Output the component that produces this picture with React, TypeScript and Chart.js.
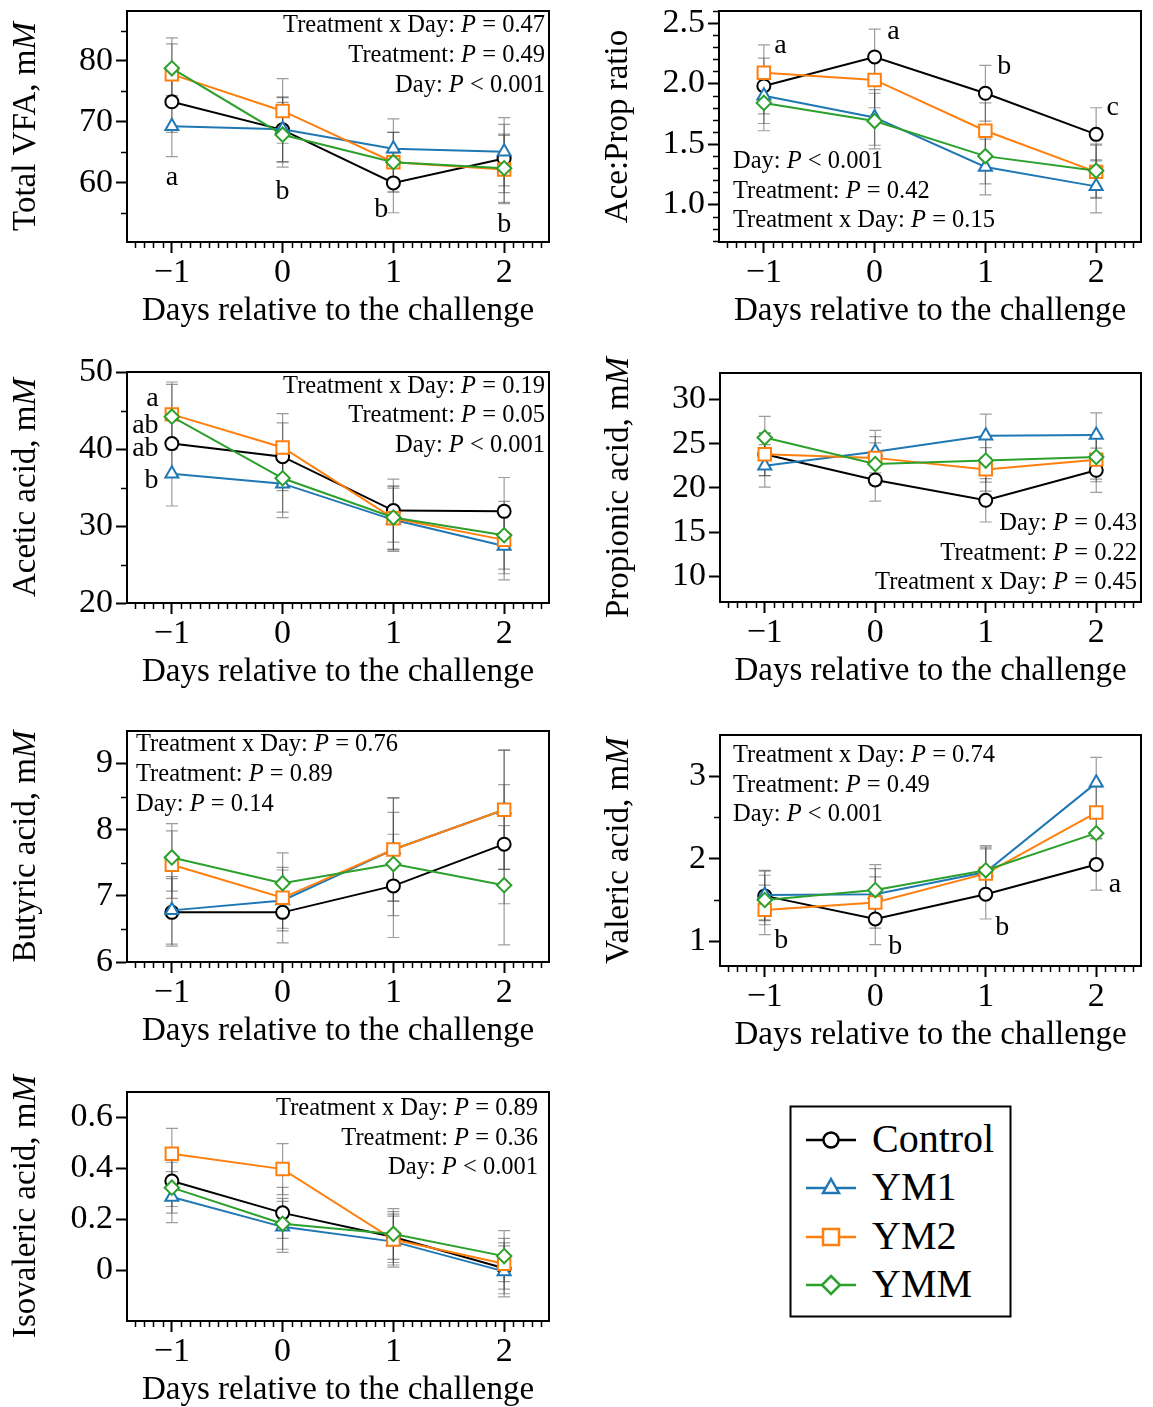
import React, { useEffect, useRef } from 'react';
import { Chart, registerables } from 'chart.js';

Chart.register(...registerables);

const FONT = '"Liberation Serif", "Times New Roman", serif';

// ---------------- data ----------------
const DAYS = [-1, 0, 1, 2];
const DAY_TICKS = [-1, 0, 1, 2];
const GROUP_NAMES = ['Control', 'YM1', 'YM2', 'YMM'];
const GROUP_COLORS = ['#000000', '#1f77b4', '#ff7f0e', '#2ca02c'];
const GROUP_MARKERS = ['circle', 'triangle', 'rect', 'rectRot'];
const X_TITLE = 'Days relative to the challenge';

// Total VFA
const VFA_CONTROL = [73.3, 68.7, 60.0, 64.0];
const VFA_YM1 = [69.3, 68.8, 65.6, 65.1];
const VFA_YM2 = [77.8, 71.8, 63.4, 62.2];
const VFA_YMM = [78.8, 67.9, 63.4, 62.4];
const VFA_SE = [5.0, 5.3, 4.9, 5.6];
const VFA_STATS = ['Treatment x Day: P = 0.47', 'Treatment: P = 0.49', 'Day: P < 0.001'];
const VFA_LETTERS = ['a', 'b', 'b', 'b'];
const VFA_LETTER_X = [-1, 0, 0.89, 2];
const VFA_LETTER_Y = [60.8, 58.6, 55.6, 53.2];
const VFA_Y_TICKS = [60, 70, 80];
const VFA_Y_MINOR = [55, 65, 75, 85];

// Ace:Prop ratio
const AP_CONTROL = [1.98, 2.22, 1.92, 1.58];
const AP_YM1 = [1.90, 1.72, 1.31, 1.15];
const AP_YM2 = [2.09, 2.03, 1.61, 1.27];
const AP_YMM = [1.84, 1.69, 1.40, 1.28];
const AP_SE = [0.23, 0.23, 0.23, 0.22];
const AP_STATS = ['Day: P < 0.001', 'Treatment: P = 0.42', 'Treatment x Day: P = 0.15'];
const AP_LETTERS = ['a', 'a', 'b', 'c'];
const AP_LETTER_X = [-0.85, 0.17, 1.17, 2.15];
const AP_LETTER_Y = [2.31, 2.43, 2.14, 1.80];
const AP_Y_TICKS = [1.0, 1.5, 2.0, 2.5];
const AP_Y_MINOR = [0.7, 0.8, 0.9, 1.1, 1.2, 1.3, 1.4, 1.6, 1.7, 1.8, 1.9, 2.1, 2.2, 2.3, 2.4, 2.6];

// Acetic acid
const AC_CONTROL = [40.7, 39.0, 32.0, 31.9];
const AC_YM1 = [36.8, 35.5, 30.8, 27.4];
const AC_YM2 = [44.5, 40.2, 31.0, 28.2];
const AC_YMM = [44.2, 36.2, 31.1, 28.8];
const AC_SE = [4.2, 4.4, 4.1, 4.4];
const AC_STATS = ['Treatment x Day: P = 0.19', 'Treatment: P = 0.05', 'Day: P < 0.001'];
const AC_LETTERS = ['a', 'ab', 'ab', 'b'];
const AC_LETTER_X = [-1.12, -1.12, -1.12, -1.12];
const AC_LETTER_Y = [46.5, 43.0, 40.1, 35.9];
const AC_Y_TICKS = [20, 30, 40, 50];
const AC_Y_MINOR = [25, 35, 45];

// Propionic acid
const PR_CONTROL = [23.8, 20.9, 18.6, 22.0];
const PR_YM1 = [22.5, 24.1, 25.9, 26.0];
const PR_YM2 = [23.8, 23.4, 22.1, 23.2];
const PR_YMM = [25.7, 22.7, 23.1, 23.5];
const PR_SE = [2.4, 2.4, 2.45, 2.5];
const PR_STATS = ['Day: P = 0.43', 'Treatment: P = 0.22', 'Treatment x Day: P = 0.45'];
const PR_Y_TICKS = [10, 15, 20, 25, 30];
const PR_Y_MINOR: number[] = [];

// Butyric acid
const BU_CONTROL = [6.75, 6.75, 7.15, 7.78];
const BU_YM1 = [6.78, 6.93, 7.70, 8.30];
const BU_YM2 = [7.47, 6.97, 7.70, 8.30];
const BU_YMM = [7.58, 7.19, 7.48, 7.16];
const BU_SE = [0.51, 0.46, 0.78, 0.9];
const BU_STATS = ['Treatment x Day: P = 0.76', 'Treatment: P = 0.89', 'Day: P = 0.14'];
const BU_Y_TICKS = [6, 7, 8, 9];
const BU_Y_MINOR = [6.5, 7.5, 8.5];

// Valeric acid
const VA_CONTROL = [1.55, 1.27, 1.57, 1.93];
const VA_YM1 = [1.56, 1.57, 1.84, 2.92];
const VA_YM2 = [1.38, 1.47, 1.82, 2.56];
const VA_YMM = [1.50, 1.62, 1.86, 2.31];
const VA_SE = [0.30, 0.31, 0.30, 0.31];
const VA_STATS = ['Treatment x Day: P = 0.74', 'Treatment: P = 0.49', 'Day: P < 0.001'];
const VA_LETTERS = ['b', 'b', 'b', 'a'];
const VA_LETTER_X = [-0.85, 0.18, 1.15, 2.17];
const VA_LETTER_Y = [1.01, 0.94, 1.17, 1.69];
const VA_Y_TICKS = [1, 2, 3];
const VA_Y_MINOR = [1.5, 2.5];

// Isovaleric acid
const IV_CONTROL = [0.35, 0.225, 0.13, 0.007];
const IV_YM1 = [0.287, 0.17, 0.112, -0.005];
const IV_YM2 = [0.457, 0.397, 0.12, 0.025];
const IV_YMM = [0.324, 0.182, 0.142, 0.055];
const IV_SE = [0.10, 0.10, 0.10, 0.10];
const IV_STATS = ['Treatment x Day: P = 0.89', 'Treatment: P = 0.36', 'Day: P < 0.001'];
const IV_Y_TICKS = [0, 0.2, 0.4, 0.6];
const IV_Y_MINOR: number[] = [];

// ---------------- layout / style ----------------
const X_MIN = -1.405;
const X_MAX = 2.405;
const X_MINOR_DIV = 12;
const Y_AXIS_W = 127;
const X_AXIS_H = 86;
const PAD_TOP = 32;
const PAD_RIGHT = 12;
const TICK_FONT = 34;
const TITLE_FONT = 33;
const STAT_FONT = 24.5;
const LETTER_FONT = 28;
const MARKER_RADIUS = [6.5, 7.5, 8.8, 7.2];
const ERR_COLOR = 'rgba(60,60,60,0.5)';

type StatLayout = { align: 'left' | 'right'; dx: number; from: 'top' | 'bottom'; dy: number[] };

type PanelCfg = {
  key: string;
  box: { l: number; t: number; r: number; b: number };
  yMin: number;
  yMax: number;
  yTicks: number[];
  yMinor: number[];
  yDec: number;
  yTitle: [string, string];
  series: number[][];
  se: number[];
  stats: string[];
  statLayout: StatLayout;
  letters?: string[];
  letterX?: number[];
  letterY?: number[];
  letterAlign?: 'center' | 'right';
};

const PANELS: PanelCfg[] = [
  {
    key: 'vfa', box: { l: 127, t: 11, r: 549, b: 242 }, yMin: 50.3, yMax: 88.2,
    yTicks: VFA_Y_TICKS, yMinor: VFA_Y_MINOR, yDec: 0, yTitle: ['Total VFA, m', 'M'],
    series: [VFA_CONTROL, VFA_YM1, VFA_YM2, VFA_YMM], se: VFA_SE, stats: VFA_STATS,
    statLayout: { align: 'right', dx: -4, from: 'top', dy: [15, 45, 75] },
    letters: VFA_LETTERS, letterX: VFA_LETTER_X, letterY: VFA_LETTER_Y, letterAlign: 'center',
  },
  {
    key: 'ap', box: { l: 719, t: 11, r: 1141, b: 242 }, yMin: 0.69, yMax: 2.6,
    yTicks: AP_Y_TICKS, yMinor: AP_Y_MINOR, yDec: 1, yTitle: ['Ace:Prop ratio', ''],
    series: [AP_CONTROL, AP_YM1, AP_YM2, AP_YMM], se: AP_SE, stats: AP_STATS,
    statLayout: { align: 'left', dx: 14, from: 'bottom', dy: [-80, -50, -21] },
    letters: AP_LETTERS, letterX: AP_LETTER_X, letterY: AP_LETTER_Y, letterAlign: 'center',
  },
  {
    key: 'ac', box: { l: 127, t: 372, r: 549, b: 603 }, yMin: 20, yMax: 50,
    yTicks: AC_Y_TICKS, yMinor: AC_Y_MINOR, yDec: 0, yTitle: ['Acetic acid, m', 'M'],
    series: [AC_CONTROL, AC_YM1, AC_YM2, AC_YMM], se: AC_SE, stats: AC_STATS,
    statLayout: { align: 'right', dx: -4, from: 'top', dy: [15, 44, 74] },
    letters: AC_LETTERS, letterX: AC_LETTER_X, letterY: AC_LETTER_Y, letterAlign: 'right',
  },
  {
    key: 'pr', box: { l: 720, t: 373, r: 1141, b: 602 }, yMin: 7.1, yMax: 33,
    yTicks: PR_Y_TICKS, yMinor: PR_Y_MINOR, yDec: 0, yTitle: ['Propionic acid, m', 'M'],
    series: [PR_CONTROL, PR_YM1, PR_YM2, PR_YMM], se: PR_SE, stats: PR_STATS,
    statLayout: { align: 'right', dx: -4, from: 'bottom', dy: [-78, -48, -19] },
  },
  {
    key: 'bu', box: { l: 127, t: 731, r: 549, b: 962 }, yMin: 6, yMax: 9.49,
    yTicks: BU_Y_TICKS, yMinor: BU_Y_MINOR, yDec: 0, yTitle: ['Butyric acid, m', 'M'],
    series: [BU_CONTROL, BU_YM1, BU_YM2, BU_YMM], se: BU_SE, stats: BU_STATS,
    statLayout: { align: 'left', dx: 9, from: 'top', dy: [14, 44, 74] },
  },
  {
    key: 'va', box: { l: 720, t: 735, r: 1141, b: 966 }, yMin: 0.7, yMax: 3.5,
    yTicks: VA_Y_TICKS, yMinor: VA_Y_MINOR, yDec: 0, yTitle: ['Valeric acid, m', 'M'],
    series: [VA_CONTROL, VA_YM1, VA_YM2, VA_YMM], se: VA_SE, stats: VA_STATS,
    statLayout: { align: 'left', dx: 13, from: 'top', dy: [21, 51, 80] },
    letters: VA_LETTERS, letterX: VA_LETTER_X, letterY: VA_LETTER_Y, letterAlign: 'center',
  },
  {
    key: 'iv', box: { l: 127, t: 1092, r: 549, b: 1321 }, yMin: -0.2, yMax: 0.7,
    yTicks: IV_Y_TICKS, yMinor: IV_Y_MINOR, yDec: 1, yTitle: ['Isovaleric acid, m', 'M'],
    series: [IV_CONTROL, IV_YM1, IV_YM2, IV_YMM], se: IV_SE, stats: IV_STATS,
    statLayout: { align: 'right', dx: -11, from: 'top', dy: [17, 47, 76] },
  },
];

// ---------------- helpers ----------------
function fontStr(size: number, italic = false) {
  return `${italic ? 'italic ' : ''}${size}px ${FONT}`;
}

function drawParts(
  ctx: CanvasRenderingContext2D,
  parts: [string, boolean][],
  x: number,
  y: number,
  align: 'left' | 'right' | 'center',
  size: number,
) {
  const widths = parts.map(([t, it]) => {
    ctx.font = fontStr(size, it);
    return ctx.measureText(t).width;
  });
  const total = widths.reduce((a, b) => a + b, 0);
  let cx = align === 'left' ? x : align === 'right' ? x - total : x - total / 2;
  ctx.textAlign = 'left';
  parts.forEach(([t, it], i) => {
    ctx.font = fontStr(size, it);
    ctx.fillText(t, cx, y);
    cx += widths[i];
  });
}

function statParts(s: string): [string, boolean][] {
  const idx = s.indexOf('P ');
  return [
    [s.slice(0, idx), false],
    ['P', true],
    [s.slice(idx + 1), false],
  ];
}

function fmtDay(v: number) {
  return v < 0 ? '\u2212' + Math.abs(v) : String(v);
}

// ---------------- panel ----------------
function Panel({ cfg }: { cfg: PanelCfg }) {
  const ref = useRef<HTMLCanvasElement>(null);
  const { box } = cfg;
  const width = Y_AXIS_W + (box.r - box.l) + PAD_RIGHT;
  const height = PAD_TOP + (box.b - box.t) + X_AXIS_H;
  const left = box.l - Y_AXIS_W;
  const top = box.t - PAD_TOP;

  useEffect(() => {
    const canvas = ref.current;
    if (!canvas) return;

    const decor = {
      id: 'decor_' + cfg.key,
      beforeDatasetsDraw(chart: any) {
        const { ctx } = chart;
        const x = chart.scales.x;
        const y = chart.scales.y;
        ctx.save();
        ctx.strokeStyle = ERR_COLOR;
        ctx.lineWidth = 1.2;
        cfg.series.forEach((vals) => {
          vals.forEach((v, i) => {
            const px = x.getPixelForValue(DAYS[i]);
            const y1 = y.getPixelForValue(v + cfg.se[i]);
            const y2 = y.getPixelForValue(v - cfg.se[i]);
            ctx.beginPath();
            ctx.moveTo(px, y1);
            ctx.lineTo(px, y2);
            ctx.moveTo(px - 6, y1);
            ctx.lineTo(px + 6, y1);
            ctx.moveTo(px - 6, y2);
            ctx.lineTo(px + 6, y2);
            ctx.stroke();
          });
        });
        ctx.restore();
      },
      afterDraw(chart: any) {
        const { ctx, chartArea: a } = chart;
        const x = chart.scales.x;
        const y = chart.scales.y;
        ctx.save();
        // top & right frame
        ctx.strokeStyle = '#000';
        ctx.lineWidth = 2;
        ctx.beginPath();
        ctx.moveTo(a.left, a.top);
        ctx.lineTo(a.right, a.top);
        ctx.lineTo(a.right, a.bottom);
        ctx.stroke();
        // minor ticks
        ctx.lineWidth = 1.5;
        ctx.beginPath();
        const kMin = Math.ceil(X_MIN * X_MINOR_DIV);
        const kMax = Math.floor(X_MAX * X_MINOR_DIV);
        for (let k = kMin; k <= kMax; k++) {
          if (k % X_MINOR_DIV === 0) continue;
          const px = Math.round(x.getPixelForValue(k / X_MINOR_DIV)) + 0.5;
          ctx.moveTo(px, a.bottom);
          ctx.lineTo(px, a.bottom + 6);
        }
        cfg.yMinor.forEach((v) => {
          const py = Math.round(y.getPixelForValue(v)) + 0.5;
          ctx.moveTo(a.left - 6, py);
          ctx.lineTo(a.left, py);
        });
        ctx.stroke();

        ctx.fillStyle = '#000';
        ctx.textBaseline = 'middle';
        // x title
        ctx.font = fontStr(TITLE_FONT);
        ctx.textAlign = 'center';
        ctx.fillText(X_TITLE, (a.left + a.right) / 2, a.bottom + 69);
        // y title
        ctx.save();
        ctx.translate(a.left - 101, (a.top + a.bottom) / 2);
        ctx.rotate(-Math.PI / 2);
        drawParts(ctx, [[cfg.yTitle[0], false], [cfg.yTitle[1], true]], 0, 0, 'center', TITLE_FONT);
        ctx.restore();
        // statistics
        const sl = cfg.statLayout;
        const sx = sl.align === 'left' ? a.left + sl.dx : a.right + sl.dx;
        cfg.stats.forEach((s, i) => {
          const sy = (sl.from === 'top' ? a.top : a.bottom) + sl.dy[i];
          drawParts(ctx, statParts(s), sx, sy, sl.align, STAT_FONT);
        });
        // letters
        if (cfg.letters && cfg.letterX && cfg.letterY) {
          ctx.font = fontStr(LETTER_FONT);
          ctx.textAlign = cfg.letterAlign === 'right' ? 'right' : 'center';
          cfg.letters.forEach((t, i) => {
            ctx.fillText(t, x.getPixelForValue(cfg.letterX![i]), y.getPixelForValue(cfg.letterY![i]));
          });
        }
        ctx.restore();
      },
    };

    const chart = new Chart(canvas, {
      type: 'line',
      data: {
        datasets: cfg.series.map((vals, gi) => ({
          label: GROUP_NAMES[gi],
          data: DAYS.map((d, i) => ({ x: d, y: vals[i] })),
          borderColor: GROUP_COLORS[gi],
          backgroundColor: '#ffffff',
          pointBackgroundColor: '#ffffff',
          pointBorderColor: GROUP_COLORS[gi],
          pointStyle: GROUP_MARKERS[gi] as any,
          pointRadius: MARKER_RADIUS[gi],
          pointBorderWidth: 2,
          borderWidth: 2,
          tension: 0,
          order: 4 - gi,
        })),
      },
      options: {
        animation: false,
        responsive: false,
        maintainAspectRatio: false,
        devicePixelRatio: 1,
        layout: { padding: { left: 0, top: PAD_TOP, right: PAD_RIGHT, bottom: 0 } },
        plugins: { legend: { display: false }, tooltip: { enabled: false } },
        events: [],
        scales: {
          x: {
            type: 'linear',
            min: X_MIN,
            max: X_MAX,
            afterBuildTicks: (s: any) => {
              s.ticks = DAY_TICKS.map((v) => ({ value: v }));
            },
            afterFit: (s: any) => {
              s.height = X_AXIS_H;
              s.paddingLeft = 0;
              s.paddingRight = 0;
            },
            ticks: {
              autoSkip: false,
              maxRotation: 0,
              padding: 0,
              color: '#000',
              font: { family: FONT, size: TICK_FONT },
              callback: (v: any) => fmtDay(Number(v)),
            },
            grid: { display: true, drawOnChartArea: false, drawTicks: true, tickLength: 11, tickWidth: 2, tickColor: '#000' },
            border: { display: true, color: '#000', width: 2 },
          },
          y: {
            type: 'linear',
            min: cfg.yMin,
            max: cfg.yMax,
            afterBuildTicks: (s: any) => {
              s.ticks = cfg.yTicks.map((v) => ({ value: v }));
            },
            afterFit: (s: any) => {
              s.width = Y_AXIS_W;
              s.paddingTop = 0;
              s.paddingBottom = 0;
            },
            ticks: {
              autoSkip: false,
              padding: 3,
              color: '#000',
              font: { family: FONT, size: TICK_FONT },
              callback: (v: any) => {
                const n = Number(v);
                if (n === 0) return '0';
                return n.toFixed(cfg.yDec);
              },
            },
            grid: { display: true, drawOnChartArea: false, drawTicks: true, tickLength: 11, tickWidth: 2, tickColor: '#000' },
            border: { display: true, color: '#000', width: 2 },
          },
        },
      } as any,
      plugins: [decor],
    });
    return () => chart.destroy();
  }, []);

  return (
    <canvas
      ref={ref}
      width={width}
      height={height}
      style={{ position: 'absolute', left, top, width, height }}
    />
  );
}

// ---------------- legend ----------------
function LegendMarker({ kind, color, cx, cy }: { kind: string; color: string; cx: number; cy: number }) {
  const common = { fill: '#fff', stroke: color, strokeWidth: 2.5 };
  if (kind === 'circle') return <circle cx={cx} cy={cy} r={7.5} {...common} />;
  if (kind === 'triangle')
    return <polygon points={`${cx},${cy - 9} ${cx + 8},${cy + 5} ${cx - 8},${cy + 5}`} {...common} />;
  if (kind === 'rect') return <rect x={cx - 8} y={cy - 8} width={16} height={16} {...common} />;
  return <polygon points={`${cx},${cy - 9} ${cx + 9},${cy} ${cx},${cy + 9} ${cx - 9},${cy}`} {...common} />;
}

function Legend() {
  const rows = [32, 80, 129, 177];
  return (
    <svg
      width={224}
      height={214}
      style={{ position: 'absolute', left: 789, top: 1105 }}
    >
      <rect x={1.5} y={1.5} width={220} height={210} fill="#fff" stroke="#000" strokeWidth={2} />
      {GROUP_NAMES.map((name, i) => (
        <g key={name}>
          <line x1={17} x2={67} y1={rows[i] + 3} y2={rows[i] + 3} stroke={GROUP_COLORS[i]} strokeWidth={2.5} />
          <LegendMarker kind={GROUP_MARKERS[i]} color={GROUP_COLORS[i]} cx={42} cy={rows[i] + 3} />
          <text x={83} y={rows[i] + 15} fontFamily={FONT} fontSize={40} fill="#000">
            {name}
          </text>
        </g>
      ))}
    </svg>
  );
}

export default function App() {
  return (
    <div
      style={{
        position: 'absolute',
        left: 0,
        top: 0,
        width: 1153,
        height: 1407,
        background: '#fff',
        overflow: 'hidden',
      }}
    >
      {PANELS.map((p) => (
        <Panel key={p.key} cfg={p} />
      ))}
      <Legend />
    </div>
  );
}
